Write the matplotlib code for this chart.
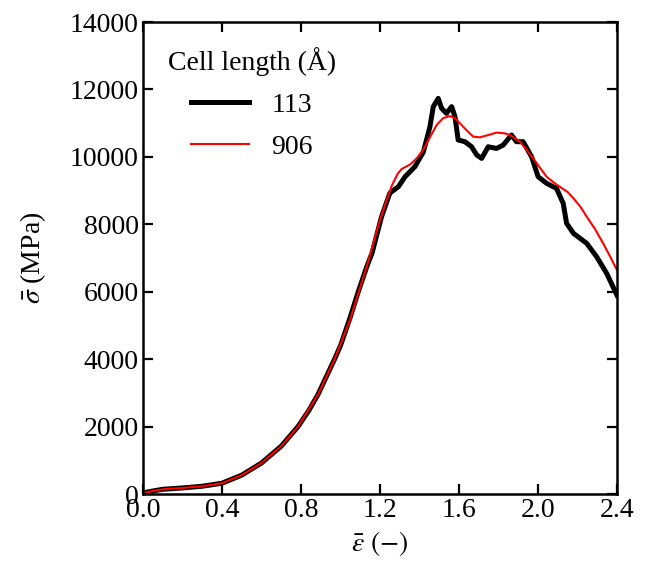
import numpy as np
import matplotlib
matplotlib.use("Agg")
import matplotlib.pyplot as plt

plt.rcParams['font.family'] = ['Liberation Serif', 'DejaVu Serif']
plt.rcParams['mathtext.fontset'] = 'stix'

# strain / stress
eps_113 = [0.0, 0.05, 0.1, 0.2, 0.3, 0.4, 0.5, 0.6, 0.7, 0.785, 0.84, 0.886, 0.93,
           0.97, 1.0, 1.048, 1.09, 1.133, 1.16, 1.208, 1.25, 1.293, 1.327, 1.377,
           1.42, 1.453, 1.47, 1.495, 1.512, 1.537, 1.563, 1.58, 1.596, 1.63, 1.664,
           1.69, 1.715, 1.748, 1.79, 1.824, 1.866, 1.891, 1.925, 1.968, 2.001, 2.044,
           2.094, 2.128, 2.145, 2.18, 2.213, 2.247, 2.297, 2.348, 2.4]
sig_113 = [30, 90, 140, 180, 230, 320, 560, 920, 1420, 2000, 2480, 2950, 3500,
           4000, 4400, 5220, 6000, 6740, 7150, 8225, 8925, 9115, 9410, 9710,
           10150, 10895, 11490, 11735, 11440, 11290, 11490, 11190, 10500, 10450, 10300,
           10055, 9955, 10300, 10250, 10350, 10650, 10450, 10450, 10000, 9410, 9215,
           9065, 8620, 8030, 7730, 7585, 7435, 7040, 6545, 5900]

eps_906 = [0.0, 0.05, 0.1, 0.2, 0.3, 0.4, 0.5, 0.6, 0.7, 0.785, 0.886, 0.97,
           1.048, 1.09, 1.133, 1.2, 1.23, 1.26, 1.29, 1.31, 1.335, 1.352, 1.385,
           1.418, 1.45, 1.487, 1.52, 1.554, 1.58, 1.605, 1.64, 1.672, 1.706,
           1.75, 1.79, 1.83, 1.858, 1.909, 1.94, 1.976, 2.01, 2.044, 2.08, 2.11,
           2.15, 2.18, 2.215, 2.247, 2.29, 2.33, 2.365, 2.4]
sig_906 = [30, 90, 140, 180, 230, 320, 560, 920, 1420, 2000, 2950, 4000,
           5160, 5950, 6750, 8127, 8650, 9150, 9500, 9640, 9720, 9770, 9950,
           10200, 10550, 10945, 11150, 11210, 11150, 10995, 10780, 10600, 10580,
           10650, 10720, 10700, 10650, 10450, 10230, 9955, 9680, 9410, 9240, 9115,
           8960, 8770, 8520, 8225, 7850, 7435, 7050, 6640]

fig = plt.figure(figsize=(6.46, 5.66), dpi=100)
ax = fig.add_axes([0.2214, 0.1272, 0.7336, 0.8339])

ax.plot(eps_113, sig_113, color='black', lw=3.6, label='113')
ax.plot(eps_906, sig_906, color='red', lw=1.5, label='906')

ax.set_xlim(0, 2.4)
ax.set_ylim(0, 14000)
ax.set_xticks(np.arange(0, 2.41, 0.4))
ax.set_xticklabels(['0.0', '0.4', '0.8', '1.2', '1.6', '2.0', '2.4'])
ax.set_yticks(np.arange(0, 14001, 2000))
ax.tick_params(direction='in', top=True, right=True, length=7, width=1.6,
               labelsize=20, pad=3)
for s in ax.spines.values():
    s.set_linewidth(1.8)

ax.set_xlabel(r'$\bar{\varepsilon}$ $(-)$', fontsize=20, labelpad=4)
ax.set_ylabel(r'$\bar{\sigma}$ (MPa)', fontsize=20, labelpad=16)

leg = ax.legend(title='Cell length (Å)', loc='upper left', frameon=False,
                fontsize=20, title_fontsize=20, handlelength=2.1,
                borderaxespad=0.5, labelspacing=0.6)

fig.savefig('out.png', dpi=100)
